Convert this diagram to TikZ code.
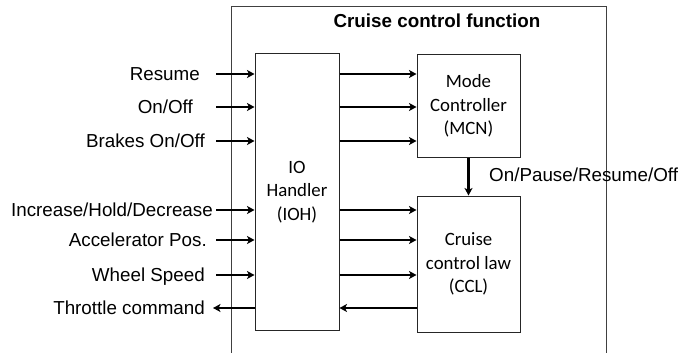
\documentclass[tikz,border=0pt]{standalone}
\usepackage{fontspec}
\setmainfont{Liberation Sans}
\newfontfamily\boxfont{Carlito}
\usetikzlibrary{arrows.meta}
\begin{document}
\begin{tikzpicture}[x=1pt,y=-1pt,
  lab/.style={font=\fontsize{18.8}{22}\selectfont, inner sep=0pt, anchor=east, text height=13.5pt, text depth=0pt},
  blk/.style={draw=black!85, line width=1pt, fill=white, font=\boxfont\fontsize{18.8}{23.5}\selectfont, align=center, inner sep=0pt},
  arr/.style={line width=2.2pt, -{Stealth[length=7.5pt,width=8pt,inset=2pt]}},
  frame/.style={draw=black!75, line width=0.9pt}]
\useasboundingbox (0,0) rectangle (685,353);
% outer open frame
\coordinate (fbl) at (231,353);
\coordinate (ftl) at (231,6);
\coordinate (ftr) at (606,6);
\coordinate (fbr) at (606,353);
\draw[frame] (fbl) -- (ftl) -- (ftr) -- (fbr);
\node[font=\bfseries\fontsize{18.8}{22}\selectfont, inner sep=0pt] (title) at (437,21) {Cruise control function};
% blocks
\node[blk, minimum width=84pt, minimum height=276pt] (ioh) at (297,192) {IO\\Handler\\(IOH)};
\node[blk, minimum width=103pt, minimum height=102pt] (mcn) at (468.5,106) {Mode\\Controller\\(MCN)};
\node[blk, minimum width=103pt, minimum height=136pt] (ccl) at (468.5,264) {Cruise\\control law\\(CCL)};
% external labels
\node[lab] (resume) at (200,74) {Resume};
\node[lab] (onoff) at (193,107) {On/Off};
\node[lab] (brakes) at (205,141) {Brakes On/Off};
\node[lab] (incr) at (213,210) {Increase/Hold/Decrease};
\node[lab] (accel) at (207,240) {Accelerator Pos.};
\node[lab] (wheel) at (205,275) {Wheel Speed};
\node[lab] (throttle) at (205,308) {Throttle command};
% input arrows
\draw[arr, shorten <=16pt] (resume.east) -- (resume.east -| ioh.west);
\draw[arr, shorten <=23pt] (onoff.east) -- (onoff.east -| ioh.west);
\draw[arr, shorten <=11pt] (brakes.east) -- (brakes.east -| ioh.west);
\draw[arr, shorten <=3pt] (incr.east) -- (incr.east -| ioh.west);
\draw[arr, shorten <=9pt] (accel.east) -- (accel.east -| ioh.west);
\draw[arr, shorten <=11pt] (wheel.east) -- (wheel.east -| ioh.west);
\draw[arr, shorten >=8pt] (throttle.east -| ioh.west) -- (throttle.east);
% internal arrows
\draw[arr] (ioh.east |- resume.east) -- (mcn.west |- resume.east);
\draw[arr] (ioh.east |- onoff.east) -- (mcn.west |- onoff.east);
\draw[arr] (ioh.east |- brakes.east) -- (mcn.west |- brakes.east);
\draw[arr] (ioh.east |- incr.east) -- (ccl.west |- incr.east);
\draw[arr] (ioh.east |- accel.east) -- (ccl.west |- accel.east);
\draw[arr] (ioh.east |- wheel.east) -- (ccl.west |- wheel.east);
\draw[arr] (ccl.west |- throttle.east) -- (ioh.east |- throttle.east);
% mode to law
\draw[arr] (mcn.south) -- (ccl.north);
\node[lab, anchor=west] (mode) at (489,175) {On/Pause/Resume/Off};
\end{tikzpicture}
\end{document}
